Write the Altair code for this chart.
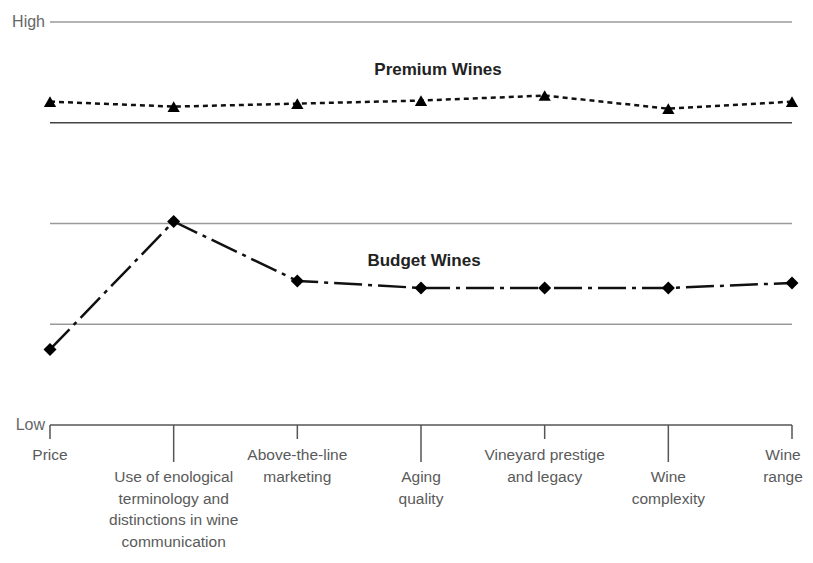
import altair as alt
import pandas as pd

factors = [
    "Price",
    "Use of enological\nterminology and\ndistinctions in wine\ncommunication",
    "Above-the-line\nmarketing",
    "Aging\nquality",
    "Vineyard prestige\nand legacy",
    "Wine\ncomplexity",
    "Wine\nrange",
]
premium = [3.21, 3.16, 3.19, 3.22, 3.27, 3.14, 3.21]
budget = [0.75, 2.02, 1.43, 1.36, 1.36, 1.36, 1.41]
grid_levels = [1, 2, 3, 4]
grid_colors = ["#9a9a9a", "#9a9a9a", "#444444", "#9a9a9a"]

W, H = 742, 403

df = pd.DataFrame({
    "i": list(range(len(factors))),
    "factor": factors,
    "Premium": premium,
    "Budget": budget,
})
grid = pd.DataFrame({"level": grid_levels, "color": grid_colors})

xs = alt.Scale(domain=[0, 6], nice=False, zero=False)
ys = alt.Scale(domain=[0, 4], nice=False, zero=False)

base = alt.Chart(df)

grid_layer = alt.Chart(grid).mark_rule(strokeWidth=1.5).encode(
    y=alt.Y("level:Q", scale=ys, axis=None),
    x=alt.value(0),
    x2=alt.value(W),
    color=alt.Color("color:N", scale=None),
)

baseline = alt.Chart(pd.DataFrame({"level": [0]})).mark_rule(
    strokeWidth=1.5, color="#555555"
).encode(
    y=alt.Y("level:Q", scale=ys, axis=None),
    x=alt.value(0),
    x2=alt.value(W),
)

ticks_short = base.transform_filter("datum.i % 2 == 0").mark_rule(
    strokeWidth=1.5, color="#555555"
).encode(
    x=alt.X("i:Q", scale=xs, axis=None),
    y=alt.value(H),
    y2=alt.value(H + 14),
)
ticks_long = base.transform_filter("datum.i % 2 == 1").mark_rule(
    strokeWidth=1.5, color="#555555"
).encode(
    x=alt.X("i:Q", scale=xs, axis=None),
    y=alt.value(H),
    y2=alt.value(H + 37),
)

lab_kw = dict(lineBreak="\n", lineHeight=21.5, fontSize=15.5, font="Liberation Sans",
              color="#5a5a5a", baseline="top")
labels_short = base.transform_filter("datum.i % 2 == 0 && datum.i < 6").mark_text(
    align="center", **lab_kw
).encode(
    x=alt.X("i:Q", scale=xs, axis=None),
    y=alt.value(H + 23),
    text="factor:N",
)
labels_last = base.transform_filter("datum.i == 6").mark_text(
    align="center", dx=-9, **lab_kw
).encode(
    x=alt.X("i:Q", scale=xs, axis=None),
    y=alt.value(H + 23),
    text="factor:N",
)
labels_long = base.transform_filter("datum.i % 2 == 1").mark_text(
    align="center", **lab_kw
).encode(
    x=alt.X("i:Q", scale=xs, axis=None),
    y=alt.value(H + 45),
    text="factor:N",
)

prem_line = base.mark_line(color="#111111", strokeWidth=2.5, strokeDash=[5, 4]).encode(
    x=alt.X("i:Q", scale=xs, axis=None),
    y=alt.Y("Premium:Q", scale=ys, axis=None),
)
prem_pts = base.mark_point(shape="triangle-up", filled=True, color="#000000",
                           size=150, opacity=1).encode(
    x=alt.X("i:Q", scale=xs, axis=None),
    y=alt.Y("Premium:Q", scale=ys, axis=None),
)
bud_line = base.mark_line(color="#111111", strokeWidth=2.5, strokeDash=[28, 6, 4, 6]).encode(
    x=alt.X("i:Q", scale=xs, axis=None),
    y=alt.Y("Budget:Q", scale=ys, axis=None),
)
bud_pts = base.mark_point(shape="diamond", filled=True, color="#000000",
                          size=170, opacity=1).encode(
    x=alt.X("i:Q", scale=xs, axis=None),
    y=alt.Y("Budget:Q", scale=ys, axis=None),
)

ann = pd.DataFrame({
    "x": [3, 3],
    "y": [3.52, 1.63],
    "t": ["Premium Wines", "Budget Wines"],
})
ann_prem = alt.Chart(ann.iloc[[0]]).mark_text(
    fontSize=17, fontWeight="bold", font="Liberation Sans", color="#222222", dx=17
).encode(x=alt.X("x:Q", scale=xs, axis=None), y=alt.Y("y:Q", scale=ys, axis=None), text="t:N")
ann_bud = alt.Chart(ann.iloc[[1]]).mark_text(
    fontSize=17, fontWeight="bold", font="Liberation Sans", color="#222222", dx=3
).encode(x=alt.X("x:Q", scale=xs, axis=None), y=alt.Y("y:Q", scale=ys, axis=None), text="t:N")

hl = pd.DataFrame({"x": [0, 0], "y": [4, 0], "t": ["High", "Low"]})
hl_layer = alt.Chart(hl).mark_text(
    fontSize=16, font="Liberation Sans", color="#666666", align="right", dx=-5
).encode(x=alt.X("x:Q", scale=xs, axis=None), y=alt.Y("y:Q", scale=ys, axis=None), text="t:N")

chart = alt.layer(
    grid_layer, baseline, ticks_short, ticks_long, labels_short, labels_last, labels_long,
    prem_line, bud_line, prem_pts, bud_pts, ann_prem, ann_bud, hl_layer,
).properties(
    width=W, height=H,
    autosize=alt.AutoSizeParams(type="none"),
    padding={"left": 42, "top": 14, "right": 13, "bottom": 128},
).configure_view(stroke=None)

chart.save("out.html", embed_options={"renderer": "svg", "actions": False})
